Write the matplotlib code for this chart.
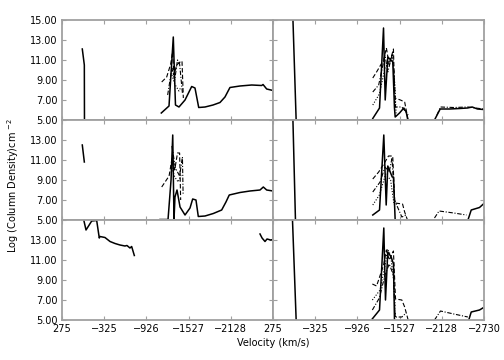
import numpy as np
import matplotlib
matplotlib.use("Agg")
import matplotlib.pyplot as plt

nan = np.nan

# x axis ticks (velocity, km/s) and y ticks (log column density)
vel_ticks = [275, -326, -927, -1528, -2129, -2730]
vel_labels = ["275", "\u2212325", "\u2212926", "\u22121527", "\u22122128", "\u22122730"]
logn_ticks = [5, 7, 9, 11, 13, 15]

# ---- top left
tl_solid_v = [-14, -43, -45, nan, -1139, -1249, -1310, -1341, -1391, -1477, -1572, -1619, -1672,
              -1762, -1876, -1975, -2046, -2117, -2260, -2427, -2569, -2588, -2640, -2730]
tl_solid_y = [12.1, 10.5, 4.9, nan, 5.7, 6.4, 13.3, 6.5, 6.3, 7.0, 8.35, 8.2, 6.25,
              6.3, 6.5, 6.75, 7.3, 8.25, 8.4, 8.5, 8.45, 8.55, 8.1, 7.95]
tl_dash_v = [-1145, -1216, -1273, -1299, -1320, -1358, -1415, -1434, -1453]
tl_dash_y = [8.8, 9.3, 10.6, 11.8, 9.5, 10.5, 10.85, 10.9, 7.2]
tl_dashdot_v = [-1230, -1290, -1330, -1370, -1400, -1440]
tl_dashdot_y = [7.5, 10.2, 9.0, 11.0, 10.6, 7.7]
tl_dot_v = [-1290, -1330, -1390, -1420]
tl_dot_y = [9.5, 8.6, 7.9, 8.3]

# ---- top right
tr_solid_v = [-7, -55, nan, -1146, -1242, -1299, -1323, -1360, -1431, -1455, -1465, -1527, -1588,
              -1622, -1645, nan, -2025, -2106, -2239, -2381, -2495, -2562, -2637, -2723]
tr_solid_y = [15.5, 4.9, nan, 5.15, 6.2, 14.2, 7.0, 11.3, 10.8, 6.2, 5.3, 5.7, 6.2,
              5.8, 5.0, nan, 5.0, 6.1, 6.1, 6.15, 6.2, 6.3, 6.1, 6.05]
tr_dash_v = [-1146, -1200, -1300, -1340, -1380, -1440, -1460, -1540, -1600, -1650]
tr_dash_y = [9.2, 9.8, 11.0, 12.2, 10.5, 12.1, 7.2, 7.0, 6.8, 5.0]
tr_dashdot_v = [-1146, -1230, -1320, -1360, -1420, -1450, -1470, -1560, -1650, nan,
                -2060, -2110, -2300, -2500, -2720]
tr_dashdot_y = [7.8, 8.5, 11.5, 9.8, 11.5, 9.6, 6.3, 6.3, 5.5, nan,
                5.5, 6.3, 6.25, 6.3, 6.1]
tr_dot_v = [-1146, -1240, -1320, -1380, -1430, -1460, -1480]
tr_dot_y = [6.5, 7.6, 10.2, 10.8, 11.6, 8.5, 5.3]

# ---- middle left
ml_solid_v = [-14, -43, nan, -1121, -1235, -1278, -1302, -1320, -1334, -1363, -1406, -1477, -1548,
              -1586, -1633, -1666, -1762, -1880, -1999, -2060, -2107, -2260, -2402, -2545,
              -2592, -2640, -2730]
ml_solid_y = [12.5, 10.8, nan, 5.05, 5.05, 9.0, 13.5, 5.0, 7.3, 8.0, 6.3, 5.5, 6.2,
              7.1, 7.0, 5.35, 5.4, 5.65, 6.0, 6.8, 7.5, 7.75, 7.9, 8.0,
              8.3, 8.0, 7.9]
ml_dash_v = [-1145, -1250, -1300, -1330, -1370, -1400, -1415]
ml_dash_y = [8.3, 9.4, 11.5, 10.0, 11.7, 11.7, 7.0]
ml_dashdot_v = [-1290, -1340, -1400, -1440, -1450]
ml_dashdot_y = [12.4, 10.2, 9.4, 11.3, 7.5]
ml_dot_v = [-1280, -1330, -1380, -1420]
ml_dot_y = [10.5, 9.3, 8.8, 9.5]

# ---- middle right
mr_solid_v = [-7, -45, nan, -1146, -1242, -1303, -1337, -1360, -1423, -1441, -1465, nan,
              -2499, -2548, -2666, -2737]
mr_solid_y = [15.5, 4.95, nan, 5.5, 6.0, 13.5, 6.5, 10.4, 9.3, 9.3, 4.95, nan,
              4.95, 6.0, 6.25, 6.7]
mr_dash_v = [-1146, -1230, -1320, -1370, -1430, -1460, -1570, -1600, -1640]
mr_dash_y = [9.1, 9.8, 10.8, 11.4, 11.4, 6.7, 6.6, 5.8, 5.0]
mr_dashdot_v = [-1146, -1250, -1320, -1380, -1420, -1455, -1560, -1620, nan,
                -2025, -2090, -2300, -2480]
mr_dashdot_y = [7.8, 8.8, 10.3, 9.8, 11.2, 7.0, 5.3, 5.5, nan,
                5.2, 5.9, 5.7, 5.5]
mr_dot_v = [-1146, -1240, -1330, -1400, -1450]
mr_dot_y = [6.5, 7.5, 9.6, 9.0, 6.5]

# ---- bottom left
bl_solid_v = [-28, -38, -67, -148, -219, -256, -266, -337, -409, -480, -551, -622, -650,
              -693, -717, -755, nan, -2545, -2574, -2616, -2645, -2697, -2730]
bl_solid_y = [15.3, 14.9, 14.0, 14.9, 14.95, 13.2, 13.35, 13.25, 12.85, 12.65, 12.5, 12.4, 12.45,
              12.2, 12.35, 11.45, nan, 13.6, 13.2, 12.85, 13.1, 13.0, 13.05]

# ---- bottom right
br_solid_v = [0, -55, nan, -1138, -1242, -1303, -1327, -1360, -1408, -1441, -1455, nan,
              -2513, -2548, -2666, -2713]
br_solid_y = [15.5, 4.95, nan, 5.1, 6.0, 14.2, 7.0, 11.8, 11.3, 10.6, 5.0, nan,
              5.0, 5.8, 6.0, 6.2]
br_dash_v = [-1140, -1200, -1300, -1340, -1380, -1440, -1470, -1560, -1600, -1650]
br_dash_y = [8.6, 8.4, 10.5, 12.0, 11.0, 11.9, 7.1, 7.0, 6.3, 5.0]
br_dashdot_v = [-1140, -1240, -1320, -1380, -1440, -1465, -1560, -1620, nan,
                -2025, -2110, -2300, -2500]
br_dashdot_y = [6.0, 7.2, 9.5, 10.6, 9.5, 5.3, 5.3, 5.7, nan,
                5.0, 5.9, 5.6, 5.3]
br_dot_v = [-1140, -1250, -1330, -1355, -1400, -1450, -1470]
br_dot_y = [7.0, 8.0, 10.8, 12.1, 11.5, 8.5, 5.2]

styles = {
    "solid": "-",
    "dash": (0, (4, 2)),
    "dashdot": (0, (4, 1.5, 1, 1.5)),
    "dot": (0, (1, 1.5)),
}

panels = [
    [(tl_solid_v, tl_solid_y, "solid"), (tl_dash_v, tl_dash_y, "dash"),
     (tl_dashdot_v, tl_dashdot_y, "dashdot"), (tl_dot_v, tl_dot_y, "dot")],
    [(tr_solid_v, tr_solid_y, "solid"), (tr_dash_v, tr_dash_y, "dash"),
     (tr_dashdot_v, tr_dashdot_y, "dashdot"), (tr_dot_v, tr_dot_y, "dot")],
    [(ml_solid_v, ml_solid_y, "solid"), (ml_dash_v, ml_dash_y, "dash"),
     (ml_dashdot_v, ml_dashdot_y, "dashdot"), (ml_dot_v, ml_dot_y, "dot")],
    [(mr_solid_v, mr_solid_y, "solid"), (mr_dash_v, mr_dash_y, "dash"),
     (mr_dashdot_v, mr_dashdot_y, "dashdot"), (mr_dot_v, mr_dot_y, "dot")],
    [(bl_solid_v, bl_solid_y, "solid")],
    [(br_solid_v, br_solid_y, "solid"), (br_dash_v, br_dash_y, "dash"),
     (br_dashdot_v, br_dashdot_y, "dashdot"), (br_dot_v, br_dot_y, "dot")],
]

fig = plt.figure(figsize=(5.04, 3.6), dpi=100)
W, H = 504.0, 360.0
col_x = [62, 273]
row_y = [20, 120, 220]
frame = "#a0a0a0"

for i, lines in enumerate(panels):
    r, c = divmod(i, 2)
    ax = fig.add_axes([col_x[c] / W, 1 - (row_y[r] + 100) / H, 211 / W, 100 / H])
    for v, y, st in lines:
        ax.plot(v, y, color="black", linestyle=styles[st],
                linewidth=1.1 if st == "solid" else 0.8)
    ax.set_xlim(275, -2730)
    ax.set_ylim(5, 15)
    ax.set_xticks(vel_ticks)
    ax.set_yticks(logn_ticks)
    for s in ax.spines.values():
        s.set_color(frame)
        s.set_linewidth(1.3)
    ax.tick_params(direction="in", length=3, width=0.8, color=frame,
                   top=True, right=True, labelsize=7, pad=3)
    if r == 2:
        lab = list(vel_labels)
        if c == 0:
            lab[-1] = ""
        ax.set_xticklabels(lab)
    else:
        ax.set_xticklabels([])
    if c == 0:
        ylab = ["%.2f" % t for t in logn_ticks]
        if r != 0:
            ylab[-1] = ""
        ax.set_yticklabels(ylab)
    else:
        ax.set_yticklabels([])

fig.text(273 / W, 1 - 343 / H, "Velocity (km/s)", ha="center", va="center", fontsize=7)
fig.text(13 / W, 1 - 185 / H, "Log (Column Density)cm $^{-2}$", ha="center", va="center",
         rotation=90, fontsize=7)

fig.savefig("out.png", dpi=100)
